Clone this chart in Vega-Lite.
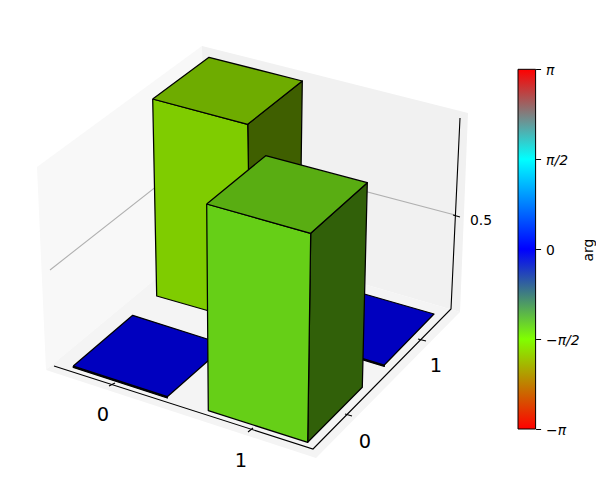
{
"$schema":"https://vega.github.io/schema/vega-lite/v6.json",
"padding":0,"spacing":0,"background":"white",
"config":{"view":{"stroke":null},"font":"DejaVu Sans"},
"datasets":{
"panes":[
{"face":"left wall","v":0,"px":37,"py":167},{"face":"left wall","v":1,"px":202,"py":46},{"face":"left wall","v":2,"px":205,"py":238},{"face":"left wall","v":3,"px":46,"py":370},{"face":"left wall","v":4,"px":37,"py":167},
{"face":"right wall","v":0,"px":202,"py":46},{"face":"right wall","v":1,"px":468,"py":113},{"face":"right wall","v":2,"px":460,"py":312},{"face":"right wall","v":3,"px":205,"py":238},{"face":"right wall","v":4,"px":202,"py":46},
{"face":"floor","v":0,"px":46,"py":370},{"face":"floor","v":1,"px":205,"py":238},{"face":"floor","v":2,"px":460,"py":312},{"face":"floor","v":3,"px":316,"py":458},{"face":"floor","v":4,"px":46,"py":370}
],
"lines":[
{"seg":"grid a","kind":"grid","v":0,"px":50,"py":270},{"seg":"grid a","kind":"grid","v":1,"px":204,"py":149},{"seg":"grid a","kind":"grid","v":2,"px":455,"py":215},
{"seg":"x axis","kind":"axis","v":0,"px":54,"py":366},{"seg":"x axis","kind":"axis","v":1,"px":313,"py":449},{"seg":"x axis","kind":"axis","v":2,"px":451,"py":309},{"seg":"x axis","kind":"axis","v":3,"px":460,"py":118},
{"seg":"t1","kind":"axis","v":0,"px":109,"py":386},{"seg":"t1","kind":"axis","v":1,"px":115,"py":383},
{"seg":"t2","kind":"axis","v":0,"px":248,"py":432},{"seg":"t2","kind":"axis","v":1,"px":253,"py":428},
{"seg":"t3","kind":"axis","v":0,"px":345,"py":414},{"seg":"t3","kind":"axis","v":1,"px":352,"py":416},
{"seg":"t4","kind":"axis","v":0,"px":418,"py":339},{"seg":"t4","kind":"axis","v":1,"px":426,"py":341},
{"seg":"t5","kind":"axis","v":0,"px":453,"py":215},{"seg":"t5","kind":"axis","v":1,"px":460,"py":217}
],
"faces":[
{"face":"tile0 front","v":0,"px":73.3,"py":366},{"face":"tile0 front","v":1,"px":167.3,"py":396.7},{"face":"tile0 front","v":2,"px":167.3,"py":398},{"face":"tile0 front","v":3,"px":73.3,"py":367.4},{"face":"tile0 front","v":4,"px":73.3,"py":366},
{"face":"tile0 top","v":0,"px":73.3,"py":366},{"face":"tile0 top","v":1,"px":132.7,"py":315.3},{"face":"tile0 top","v":2,"px":226,"py":345},{"face":"tile0 top","v":3,"px":167.3,"py":396.7},{"face":"tile0 top","v":4,"px":73.3,"py":366},
{"face":"tile1 front","v":0,"px":276,"py":332},{"face":"tile1 front","v":1,"px":384.3,"py":365},{"face":"tile1 front","v":2,"px":384.3,"py":366.4},{"face":"tile1 front","v":3,"px":276,"py":333.4},{"face":"tile1 front","v":4,"px":276,"py":332},
{"face":"tile1 top","v":0,"px":276,"py":332},{"face":"tile1 top","v":1,"px":326,"py":283},{"face":"tile1 top","v":2,"px":434,"py":314},{"face":"tile1 top","v":3,"px":384.3,"py":365},{"face":"tile1 top","v":4,"px":276,"py":332},
{"face":"A right","v":0,"px":247.7,"py":124.3},{"face":"A right","v":1,"px":302.3,"py":81},{"face":"A right","v":2,"px":299.5,"py":280},{"face":"A right","v":3,"px":251,"py":323},{"face":"A right","v":4,"px":247.7,"py":124.3},
{"face":"A front","v":0,"px":152.7,"py":99},{"face":"A front","v":1,"px":247.7,"py":124.3},{"face":"A front","v":2,"px":251,"py":323},{"face":"A front","v":3,"px":156.7,"py":296},{"face":"A front","v":4,"px":152.7,"py":99},
{"face":"A top","v":0,"px":152.7,"py":99},{"face":"A top","v":1,"px":209,"py":57.3},{"face":"A top","v":2,"px":302.3,"py":81},{"face":"A top","v":3,"px":247.7,"py":124.3},{"face":"A top","v":4,"px":152.7,"py":99},
{"face":"B right","v":0,"px":310.7,"py":233.3},{"face":"B right","v":1,"px":367.3,"py":182.7},{"face":"B right","v":2,"px":362.3,"py":387.3},{"face":"B right","v":3,"px":307.7,"py":442.3},{"face":"B right","v":4,"px":310.7,"py":233.3},
{"face":"B front","v":0,"px":206.7,"py":204},{"face":"B front","v":1,"px":310.7,"py":233.3},{"face":"B front","v":2,"px":307.7,"py":442.3},{"face":"B front","v":3,"px":208.3,"py":410.7},{"face":"B front","v":4,"px":206.7,"py":204},
{"face":"B top","v":0,"px":206.7,"py":204},{"face":"B top","v":1,"px":265.7,"py":155.7},{"face":"B top","v":2,"px":367.3,"py":182.7},{"face":"B top","v":3,"px":310.7,"py":233.3},{"face":"B top","v":4,"px":206.7,"py":204}
],
"bigLabels":[
{"px":103,"py":415,"label":"0"},{"px":241,"py":461,"label":"1"},{"px":365,"py":442,"label":"0"},{"px":436,"py":366,"label":"1"}
],
"smallLabels":[{"px":481,"py":221,"label":"0.5"}]
},
"hconcat":[
{
"width":516.7,"height":499,
"layer":[
{"data":{"name":"panes"},
 "mark":{"type":"line","strokeWidth":0,"clip":false,"opacity":1},
 "encoding":{
  "x":{"field":"px","type":"quantitative","scale":{"domain":[0,516.7],"nice":false,"zero":false},"axis":null},
  "y":{"field":"py","type":"quantitative","scale":{"domain":[499,0],"nice":false,"zero":false},"axis":null},
  "order":{"field":"v"},"detail":{"field":"face"},
  "fill":{"field":"face","type":"nominal","legend":null,"scale":{"domain":["left wall","right wall","floor"],"range":["#f8f8f8","#f1f1f1","#f4f4f4"]}}
 }},
{"data":{"name":"lines"},
 "mark":{"type":"line","strokeWidth":1.1,"opacity":1},
 "encoding":{
  "x":{"field":"px","type":"quantitative","axis":null},
  "y":{"field":"py","type":"quantitative","axis":null},
  "order":{"field":"v"},"detail":{"field":"seg"},
  "stroke":{"field":"kind","type":"nominal","legend":null,"scale":{"domain":["grid","axis"],"range":["#b0b0b0","#000000"]}}
 }},
{"data":{"name":"faces"},
 "mark":{"type":"line","stroke":"#000000","strokeWidth":1.25,"strokeJoin":"round","opacity":1,"fillOpacity":1},
 "encoding":{
  "x":{"field":"px","type":"quantitative","axis":null},
  "y":{"field":"py","type":"quantitative","axis":null},
  "order":{"field":"v"},"detail":{"field":"face"},
  "fill":{"field":"face","type":"nominal","legend":null,"sort":null,"scale":{"domain":["tile0 front","tile0 top","tile1 front","tile1 top","A right","A front","A top","B right","B front","B top"],"range":["#000060","#0000bf","#000060","#0000bf","#3f5f00","#7fcc00","#6eac00","#316009","#66cf17","#59ad12"]}}
 }},
{"data":{"name":"bigLabels"},
 "mark":{"type":"text","fontSize":19.4,"font":"DejaVu Sans","color":"#000000","align":"center","baseline":"middle"},
 "encoding":{"x":{"field":"px","type":"quantitative","axis":null},"y":{"field":"py","type":"quantitative","axis":null},"text":{"field":"label"}}},
{"data":{"name":"smallLabels"},
 "mark":{"type":"text","fontSize":13.9,"font":"DejaVu Sans","color":"#000000","align":"center","baseline":"middle"},
 "encoding":{"x":{"field":"px","type":"quantitative","axis":null},"y":{"field":"py","type":"quantitative","axis":null},"text":{"field":"label"}}}
],
"resolve":{"scale":{"fill":"independent","stroke":"independent"}}
},
{
"width":17.6,"height":499,
"data":{"values":[{"low":-3.14159,"high":3.14159}]},
"mark":{"type":"rect","stroke":"#000000","strokeWidth":1,
 "color":{"gradient":"linear","x1":0,"y1":1,"x2":0,"y2":0,"stops":[
  {"offset":0,"color":"#ff0000"},{"offset":0.25,"color":"#80ff00"},{"offset":0.5,"color":"#0000ff"},{"offset":0.75,"color":"#00ffff"},{"offset":1,"color":"#ff0000"}]}},
"encoding":{
 "x":{"datum":0,"type":"quantitative","axis":null,"scale":{"domain":[0,1],"nice":false}},
 "x2":{"datum":1},
 "y":{"field":"low","type":"quantitative","scale":{"domain":[-4.3643,4.3521],"nice":false,"zero":false},
  "axis":{"orient":"right","values":[-3.14159,-1.5708,0,1.5708,3.14159],"grid":false,"domain":false,"tickSize":5,"tickColor":"#000000","labelColor":"#000000","labelFontSize":13.9,"labelFont":"DejaVu Sans","labelPadding":5,"labelOffset":1.5,"labelFontStyle":{"condition":{"test":"datum.value==0","value":"normal"},"value":"italic"},
   "labelExpr":"datum.value<-3?'−π':datum.value<-1?'−π/2':datum.value<1?'0':datum.value<3?'π/2':'π'",
   "title":"arg","titleFontSize":13.9,"titleFont":"DejaVu Sans","titleFontWeight":"normal","titleColor":"#000000","titleAngle":270,"titlePadding":16}},
 "y2":{"field":"high"}
}
}
]
}
